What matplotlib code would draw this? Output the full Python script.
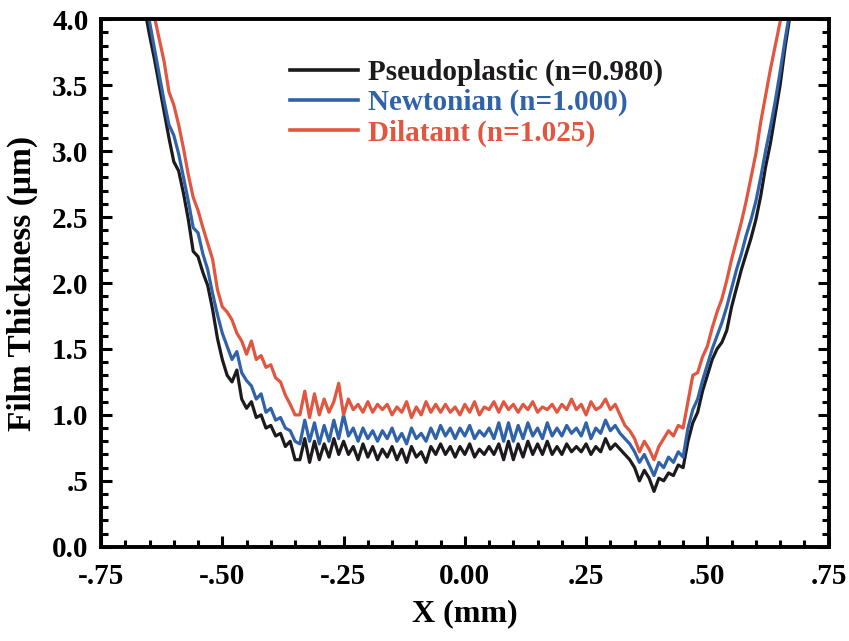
import matplotlib
matplotlib.use("Agg")
import matplotlib.pyplot as plt
from matplotlib.ticker import MultipleLocator

# sample positions along X (mm)
x = [-0.67, -0.66, -0.65, -0.64, -0.63, -0.62, -0.61, -0.60, -0.59, -0.58,
     -0.57, -0.56, -0.55, -0.54, -0.53, -0.52, -0.51, -0.50, -0.49, -0.48,
     -0.47, -0.46, -0.45, -0.44, -0.43, -0.42, -0.41, -0.40, -0.39, -0.38,
     -0.37, -0.36, -0.35, -0.34, -0.33, -0.32, -0.31, -0.30, -0.29, -0.28,
     -0.27, -0.26, -0.25, -0.24, -0.23, -0.22, -0.21, -0.20, -0.19, -0.18,
     -0.17, -0.16, -0.15, -0.14, -0.13, -0.12, -0.11, -0.10, -0.09, -0.08,
     -0.07, -0.06, -0.05, -0.04, -0.03, -0.02, -0.01, 0.00, 0.01, 0.02,
     0.03, 0.04, 0.05, 0.06, 0.07, 0.08, 0.09, 0.10, 0.11, 0.12,
     0.13, 0.14, 0.15, 0.16, 0.17, 0.18, 0.19, 0.20, 0.21, 0.22,
     0.23, 0.24, 0.25, 0.26, 0.27, 0.28, 0.29, 0.30, 0.31, 0.32,
     0.33, 0.34, 0.35, 0.36, 0.37, 0.38, 0.39, 0.40, 0.41, 0.42,
     0.43, 0.44, 0.45, 0.46, 0.47, 0.48, 0.49, 0.50, 0.51, 0.52,
     0.53, 0.54, 0.55, 0.56, 0.57, 0.58, 0.59, 0.60, 0.61, 0.62,
     0.63, 0.64, 0.65, 0.66, 0.67, 0.68]

# film thickness (um), Pseudoplastic n=0.980
h_pseudo = [4.30, 4.08, 3.88, 3.70, 3.50, 3.30, 3.10, 2.92, 2.85, 2.68,
            2.48, 2.24, 2.20, 2.08, 1.98, 1.80, 1.58, 1.42, 1.30, 1.25,
            1.34, 1.12, 1.05, 1.10, 0.98, 1.00, 0.90, 0.92, 0.84, 0.86,
            0.76, 0.80, 0.66, 0.66, 0.82, 0.64, 0.80, 0.66, 0.78, 0.68,
            0.82, 0.70, 0.80, 0.70, 0.76, 0.66, 0.78, 0.68, 0.76, 0.66,
            0.74, 0.68, 0.76, 0.66, 0.74, 0.64, 0.76, 0.68, 0.72, 0.64,
            0.76, 0.70, 0.78, 0.70, 0.76, 0.68, 0.76, 0.70, 0.78, 0.68,
            0.74, 0.70, 0.76, 0.70, 0.78, 0.66, 0.80, 0.66, 0.78, 0.68,
            0.80, 0.70, 0.78, 0.70, 0.80, 0.70, 0.76, 0.70, 0.78, 0.72,
            0.76, 0.72, 0.78, 0.70, 0.76, 0.72, 0.82, 0.74, 0.78, 0.74,
            0.70, 0.66, 0.60, 0.50, 0.58, 0.52, 0.42, 0.52, 0.50, 0.56,
            0.54, 0.62, 0.60, 0.80, 0.94, 1.02, 1.18, 1.30, 1.42, 1.50,
            1.55, 1.64, 1.82, 1.96, 2.10, 2.22, 2.34, 2.48, 2.66, 2.88,
            3.06, 3.28, 3.50, 3.78, 4.02, 4.30]

# Newtonian n=1.000
h_newton = [4.35, 4.12, 3.98, 3.78, 3.58, 3.38, 3.20, 3.12, 2.98, 2.80,
            2.62, 2.42, 2.38, 2.22, 2.10, 1.92, 1.76, 1.62, 1.52, 1.42,
            1.48, 1.32, 1.26, 1.22, 1.12, 1.16, 1.02, 1.05, 0.96, 0.98,
            0.90, 0.88, 0.80, 0.78, 0.96, 0.80, 0.94, 0.78, 0.92, 0.80,
            0.96, 0.82, 1.00, 0.84, 0.90, 0.80, 0.90, 0.82, 0.88, 0.80,
            0.88, 0.82, 0.90, 0.80, 0.86, 0.78, 0.90, 0.82, 0.86, 0.80,
            0.90, 0.82, 0.92, 0.84, 0.90, 0.82, 0.90, 0.84, 0.92, 0.82,
            0.88, 0.84, 0.90, 0.82, 0.94, 0.80, 0.94, 0.80, 0.92, 0.82,
            0.94, 0.84, 0.90, 0.82, 0.94, 0.84, 0.90, 0.84, 0.92, 0.86,
            0.90, 0.84, 0.94, 0.82, 0.90, 0.86, 0.96, 0.88, 0.92, 0.86,
            0.82, 0.78, 0.72, 0.64, 0.70, 0.62, 0.54, 0.64, 0.60, 0.68,
            0.64, 0.72, 0.68, 0.90, 1.04, 1.12, 1.26, 1.38, 1.50, 1.60,
            1.70, 1.82, 1.96, 2.10, 2.22, 2.36, 2.48, 2.62, 2.80, 3.00,
            3.18, 3.38, 3.60, 3.84, 4.06, 4.30]

# Dilatant n=1.025
h_dilat = [4.60, 4.35, 4.15, 4.02, 3.85, 3.68, 3.45, 3.35, 3.20, 3.02,
           2.82, 2.65, 2.55, 2.42, 2.30, 2.18, 1.95, 1.82, 1.78, 1.72,
           1.62, 1.56, 1.46, 1.56, 1.42, 1.45, 1.36, 1.38, 1.28, 1.25,
           1.15, 1.08, 1.00, 1.00, 1.18, 0.98, 1.16, 1.00, 1.12, 1.02,
           1.10, 1.24, 1.00, 1.12, 1.04, 1.08, 1.02, 1.10, 1.02, 1.08,
           1.04, 1.08, 1.00, 1.06, 1.02, 1.10, 0.98, 1.06, 1.00, 1.10,
           1.02, 1.08, 1.02, 1.08, 1.02, 1.06, 1.00, 1.08, 1.02, 1.10,
           1.00, 1.06, 1.04, 1.10, 1.02, 1.10, 1.04, 1.08, 1.02, 1.08,
           1.04, 1.10, 1.02, 1.06, 1.04, 1.08, 1.02, 1.08, 1.04, 1.12,
           1.04, 1.08, 1.00, 1.10, 1.04, 1.06, 1.12, 1.04, 1.08, 1.00,
           0.92, 0.88, 0.82, 0.72, 0.80, 0.74, 0.66, 0.76, 0.82, 0.88,
           0.84, 0.92, 0.90, 1.10, 1.30, 1.32, 1.44, 1.52, 1.66, 1.78,
           1.88, 2.02, 2.18, 2.32, 2.46, 2.62, 2.80, 2.98, 3.22, 3.42,
           3.62, 3.80, 3.98, 4.20, 4.50, 4.70]

labels = ["Pseudoplastic (n=0.980)", "Newtonian (n=1.000)", "Dilatant (n=1.025)"]
colors = ["#1c1a1c", "#2f62a8", "#e2553f"]

plt.rcParams['font.family'] = 'Liberation Serif'
plt.rcParams['font.weight'] = 'bold'

fig = plt.figure(figsize=(8.49, 6.41), dpi=100)
ax = fig.add_axes([0.119, 0.147, 0.857, 0.823])

for h, lab, c in zip([h_pseudo, h_newton, h_dilat], labels, colors):
    ax.plot(x, h, color=c, lw=2.3, label=lab)

ax.set_xlim(-0.75, 0.75)
ax.set_ylim(0.0, 4.0)

ax.set_xticks([-0.75, -0.5, -0.25, 0.0, 0.25, 0.5, 0.75])
ax.set_xticklabels(["-.75", "-.50", "-.25", "0.00", ".25", ".50", ".75"])
ax.set_yticks([0.0, 0.5, 1.0, 1.5, 2.0, 2.5, 3.0, 3.5, 4.0])
ax.set_yticklabels(["0.0", ".5", "1.0", "1.5", "2.0", "2.5", "3.0", "3.5", "4.0"])
ax.xaxis.set_minor_locator(MultipleLocator(0.05))
ax.yaxis.set_minor_locator(MultipleLocator(0.1))

ax.tick_params(which='both', direction='in', top=False, right=True, width=2.2, labelsize=21)
ax.tick_params(axis='x', pad=12)
ax.tick_params(axis='y', pad=9)
ax.tick_params(which='major', length=8)
ax.tick_params(which='minor', length=5)
for s in ax.spines.values():
    s.set_linewidth(2.8)

ax.set_xlabel("X (mm)", fontsize=23, fontweight='bold', labelpad=6)
ax.set_ylabel("Film Thickness (\u03bcm)", fontsize=24, fontweight='bold', labelpad=10)

leg = ax.legend(loc='upper left', bbox_to_anchor=(0.2596, 0.925), frameon=False,
                fontsize=21, handlelength=2.33, handletextpad=0.35, labelspacing=0.1,
                borderpad=0, borderaxespad=0)
for t, c in zip(leg.get_texts(), colors):
    t.set_color(c)
    t.set_fontweight('bold')
for l in leg.get_lines():
    l.set_linewidth(2.6)

fig.savefig("out.png", dpi=100)
